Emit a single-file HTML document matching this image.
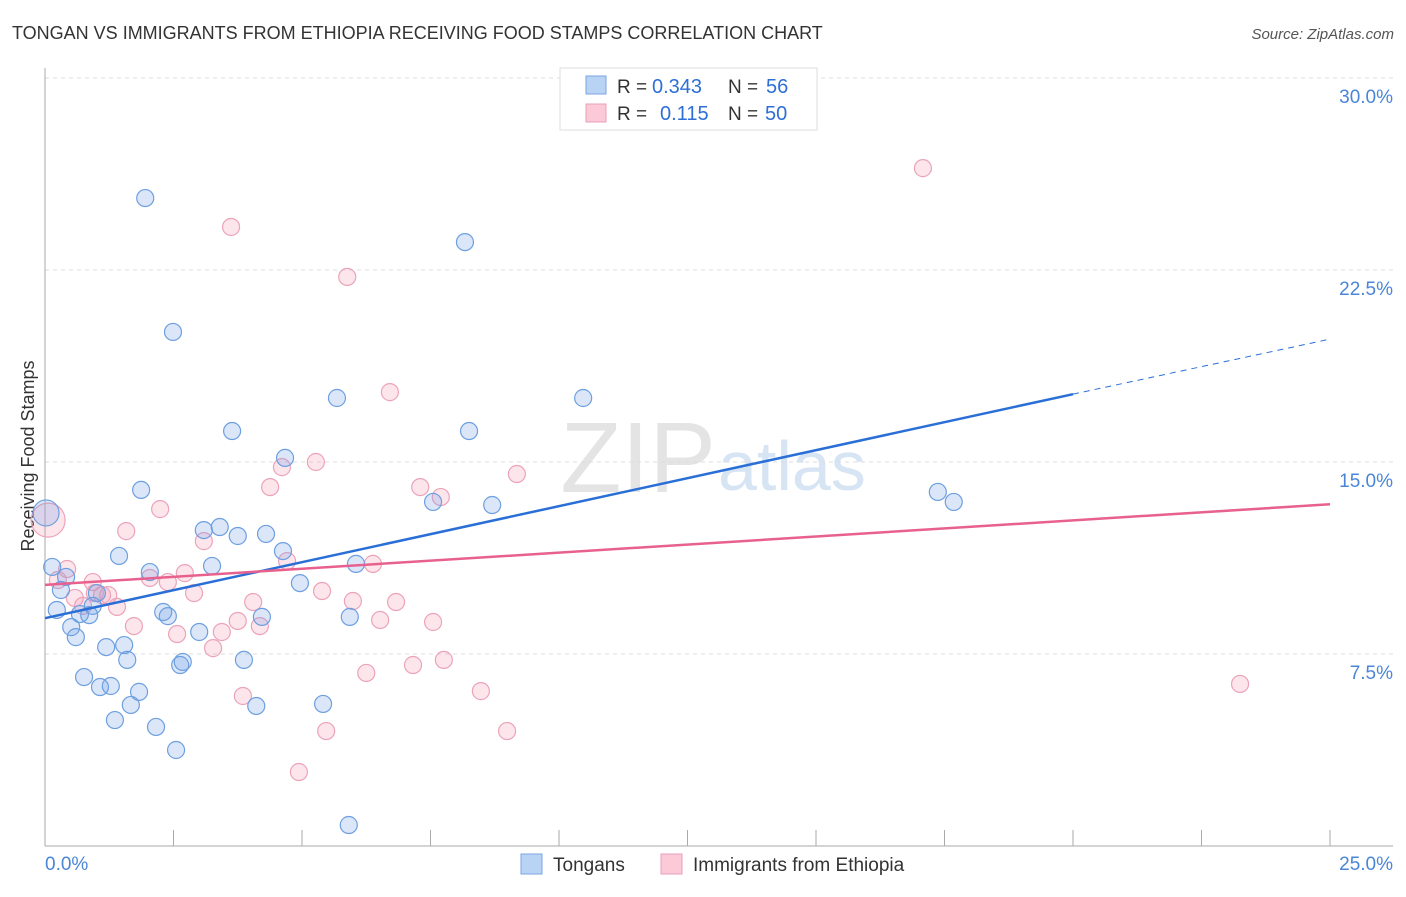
<!DOCTYPE html>
<html><head><meta charset="utf-8"><style>
body{margin:0;background:#fff;font-family:"Liberation Sans",sans-serif}
svg text{font-family:"Liberation Sans",sans-serif}
</style></head><body>
<svg width="1406" height="892">
<text x="12" y="39" font-size="18" fill="#333">TONGAN VS IMMIGRANTS FROM ETHIOPIA RECEIVING FOOD STAMPS CORRELATION CHART</text>
<text x="1394" y="39" font-size="15" fill="#555" font-style="italic" text-anchor="end">Source: ZipAtlas.com</text>
<text x="0" y="0" font-size="18" fill="#333" text-anchor="middle" transform="translate(34,456) rotate(-90)">Receiving Food Stamps</text>
<text x="716" y="492" font-size="100" fill="#e4e4e4" text-anchor="end" font-family="Liberation Serif">ZIP</text>
<text x="718" y="490" font-size="70" fill="#d6e4f4">atlas</text>
<g id="grid"></g><g id="axes"></g><g id="pts"></g><g id="lines"></g>
<g>
<rect x="560" y="68" width="257" height="62" fill="#fff" stroke="#ddd"/>
<rect x="586" y="76" width="20" height="18" fill="#b9d3f5" stroke="#7aa6e0"/>
<rect x="586" y="104" width="20" height="18" fill="#fbc9d8" stroke="#eba0b8"/>
<text x="617" y="93" font-size="19" fill="#333">R =</text>
<text x="652" y="93" font-size="20" fill="#2d6fd6">0.343</text>
<text x="728" y="93" font-size="19" fill="#333">N =</text>
<text x="766" y="93" font-size="20" fill="#2d6fd6">56</text>
<text x="617" y="120" font-size="19" fill="#333">R =</text>
<text x="660" y="120" font-size="20" fill="#2d6fd6">0.115</text>
<text x="728" y="120" font-size="19" fill="#333">N =</text>
<text x="765" y="120" font-size="20" fill="#2d6fd6">50</text>
</g>
<g>
<rect x="521" y="854" width="21" height="20" fill="#b9d3f5" stroke="#7aa6e0"/>
<text x="553" y="871" font-size="19" fill="#333">Tongans</text>
<rect x="661" y="854" width="21" height="20" fill="#fbc9d8" stroke="#eba0b8"/>
<text x="693" y="871" font-size="19" fill="#333">Immigrants from Ethiopia</text>
</g>
</svg>
<script>
const yTicks=[7.5,15,22.5,30];
const xTickLabels=["0.0%","25.0%"];
const blueX=[145,173,465,337,583,232,469,285,141,433,492,938,954,204,220,238,266,119,283,52,66,150,212,356,300,61,97,93,57,80,89,163,168,71,76,262,350,199,106,124,127,244,183,180,84,100,111,139,131,256,323,115,156,176,349,46].map(p=>+((p-45)/1285*25).toFixed(2));
const blueY=[198,332,242,398,398,431,431,458,490,502,505,492,502,530,527,536,534,556,551,567,577,572,566,564,583,590,593,606,610,614,615,612,616,627,637,617,617,632,647,645,660,660,662,665,677,687,686,692,705,706,704,720,727,750,825,513].map(p=>+((846-p)/768*30).toFixed(2));
const pinkX=[923,231,347,390,316,282,517,270,420,441,160,126,204,287,373,67,58,93,150,168,185,108,75,102,194,322,253,353,396,117,83,134,238,260,380,433,177,222,213,413,444,366,243,481,1240,326,507,299,48,95].map(p=>+((p-45)/1285*25).toFixed(2));
const pinkY=[168,227,277,392,462,467,474,487,487,497,509,531,541,561,564,569,580,582,578,582,573,595,598,595,593,591,602,601,602,607,606,626,621,626,620,622,634,632,648,665,660,673,696,691,684,731,731,772,520,593].map(p=>+((846-p)/768*30).toFixed(2));
const blueTrend=[[0,8.9],[20,17.65],[25,19.8]];
const pinkTrend=[[0,10.2],[25,13.35]];
const X=v=>45+v/25*1285, Y=v=>846-v/30*768;
const NS="http://www.w3.org/2000/svg";
function mk(tag,attrs,parent){const e=document.createElementNS(NS,tag);for(const k in attrs)e.setAttribute(k,attrs[k]);parent.appendChild(e);return e;}
const grid=document.getElementById('grid'),axes=document.getElementById('axes');
yTicks.forEach(t=>{
 const l=mk('line',{x1:45,x2:1393,y1:Y(t),y2:Y(t),stroke:'#ddd','stroke-dasharray':'4,4'},grid);
 
 
 const tx=mk('text',{x:1393,y:Y(t)+25,'font-size':19,fill:'#4a86d8','text-anchor':'end'},axes);
 tx.textContent=t.toFixed(1)+'%';
 
 
});
mk('line',{x1:45,x2:45,y1:68,y2:846,stroke:'#aaa'},axes);
mk('line',{x1:45,x2:1393,y1:846,y2:846,stroke:'#aaa'},axes);
for(let i=1;i<=10;i++){const x=X(i*2.5);const t=mk('line',{x1:x,x2:x,y1:830,y2:846,stroke:'#aaa'},axes);
 
 }
const a=mk('text',{x:45,y:870,'font-size':19,fill:'#4a86d8'},axes);a.textContent=xTickLabels[0];


const b=mk('text',{x:1393,y:870,'font-size':19,fill:'#4a86d8','text-anchor':'end'},axes);b.textContent=xTickLabels[1];


const pts=document.getElementById('pts');
function dots(xs,ys,fill,stroke,name){xs.forEach((v,i)=>{const big=i===xs.length-1&&name==='tongan-point';
 const pr=(name==='ethiopia-point'&&i===xs.length-2)?17:(big?13:8.5);
 const c=mk('circle',{cx:X(v),cy:Y(ys[i]),r:pr,fill:fill,stroke:stroke,'stroke-width':1.2},pts);
 
 });}
dots(pinkX,pinkY,'rgba(240,140,170,0.22)','#eca3ba','ethiopia-point');
dots(blueX,blueY,'rgba(110,160,230,0.25)','#6d9fe0','tongan-point');
const lines=document.getElementById('lines');
const bl=mk('line',{x1:X(blueTrend[0][0]),y1:Y(blueTrend[0][1]),x2:X(blueTrend[1][0]),y2:Y(blueTrend[1][1]),stroke:'#2a6fd6','stroke-width':2.5},lines);


const bd=mk('line',{x1:X(blueTrend[1][0]),y1:Y(blueTrend[1][1]),x2:X(blueTrend[2][0]),y2:Y(blueTrend[2][1]),stroke:'#2a6fd6','stroke-width':1,'stroke-dasharray':'6,5'},lines);


const pl=mk('line',{x1:X(pinkTrend[0][0]),y1:Y(pinkTrend[0][1]),x2:X(pinkTrend[1][0]),y2:Y(pinkTrend[1][1]),stroke:'#e8608e','stroke-width':2.5},lines);


</script>
</body></html>
